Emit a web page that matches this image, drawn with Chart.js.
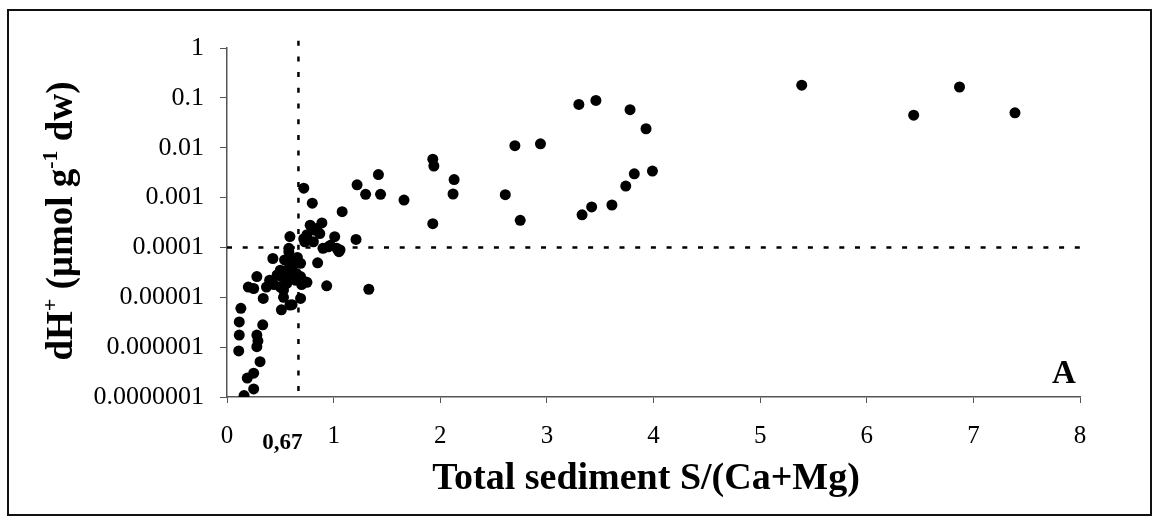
<!DOCTYPE html>
<html>
<head>
<meta charset="utf-8">
<script src="https://cdn.jsdelivr.net/npm/chart.js@4"></script>
<style>
  html, body { margin: 0; padding: 0; background: #fff; }
  #wrap { position: relative; width: 1158px; height: 522px; }
  #frame { position: absolute; left: 7px; top: 9px; width: 1141px; height: 503px; border: 2px solid #111; pointer-events: none; }
  canvas { position: absolute; left: 0; top: 0; }
</style>
</head>
<body>
<div id="wrap">
  <canvas id="chart" width="1158" height="522"></canvas>
  <div id="frame"></div>
</div>
<script>
// S/(Ca+Mg) of the sediment
const sRatio = [
  5.39, 6.44, 6.87, 7.39,
  3.30, 3.46, 3.78, 3.93, 3.82, 3.99, 3.74, 3.61, 3.42, 3.33,
  2.70, 2.94, 2.61, 2.75, 1.93, 1.94, 2.13, 2.12, 1.93,
  1.42, 1.30, 1.44, 1.66, 1.22, 1.33, 1.21, 1.08, 0.80, 0.72, 0.935, 0.85,
  0.78, 0.89, 0.84, 0.72, 0.81, 1.01, 0.95, 1.06, 0.90, 0.87, 0.83,
  0.59, 0.58, 0.43, 0.54, 0.62, 0.50, 0.62, 0.69, 0.73, 0.56, 0.40, 0.37,
  0.34, 0.53, 0.59, 0.69, 0.50, 0.28, 0.20, 0.25, 0.51, 0.56, 0.61, 0.69,
  0.64, 0.70, 0.65, 0.51, 0.61, 0.53, 0.75, 0.56, 0.75, 0.73, 0.58, 0.58,
  1.03, 0.97, 1.05, 0.66, 0.47, 0.44,
  0.13, 0.115, 0.115, 0.11, 0.335, 0.28, 0.29, 0.28, 0.31, 0.25, 0.19, 0.25, 0.16
];
// dH+ (umol g-1 dw)
const dH = [
  0.18, 0.045, 0.165, 0.05,
  0.074, 0.089, 0.058, 0.024, 0.003, 0.0034, 0.0017, 0.00071, 0.00065, 0.00045,
  0.011, 0.012, 0.00114, 0.00035, 0.0059, 0.0043, 0.0023, 0.00118, 0.0003,
  0.0029, 0.00116, 0.00116, 0.00089, 0.0018, 0.0000145, 0.000145, 0.00052, 0.00077, 0.00154, 0.000017, 0.000049,
  0.00028, 0.00031, 0.00024, 0.00015, 0.00013, 0.000164, 0.000103, 0.000089, 0.000096, 0.00019, 0.00022,
  0.000165, 0.000096, 0.00006, 0.000056, 0.000048, 0.000035, 0.00003, 0.000026, 0.0000205, 0.000022, 0.000022, 0.000016,
  0.0000095, 0.00001, 0.000007, 0.0000095, 0.000016, 0.000026, 0.000016, 0.000015, 0.000026, 0.000035, 0.000041, 0.000048,
  0.000022, 0.000018, 0.00003, 0.0000056, 0.0000071, 0.000014, 0.00002, 0.000019, 0.00018, 0.00013, 0.000082, 0.00006,
  0.000096, 0.00011, 0.000082, 0.000063, 0.000028, 0.000018,
  0.000006, 0.0000032, 0.00000175, 0.00000084, 0.0000028, 0.00000175, 0.00000134, 0.00000102, 0.00000051, 0.0000003, 0.00000024, 0.000000145, 0.000000107
];

const sThreshold = 0.67;
const dHThreshold = 0.0001;

const xTicks = [0, 1, 2, 3, 4, 5, 6, 7, 8];
const yTicks = [0.0000001, 0.000001, 0.00001, 0.0001, 0.001, 0.01, 0.1, 1];
const yTickLabels = ['0.0000001', '0.000001', '0.00001', '0.0001', '0.001', '0.01', '0.1', '1'];

const points = sRatio.map((s, i) => ({ x: s, y: dH[i] }));

const serif = "'Liberation Serif', 'Times New Roman', serif";
const axisGray = '#555';

// extra labels: axis titles with superscripts, 0,67 marker, panel letter
const labelsPlugin = {
  id: 'labels',
  afterDraw(chart) {
    const ctx = chart.ctx;
    const xs = chart.scales.x;
    ctx.save();
    ctx.fillStyle = '#000';

    // x title
    ctx.font = 'bold 38px ' + serif;
    ctx.textAlign = 'center';
    ctx.textBaseline = 'middle';
    ctx.fillText('Total sediment S/(Ca+Mg)', 646, 479);

    // 0,67 marker
    ctx.font = 'bold 23px ' + serif;
    ctx.fillText('0,67', xs.getPixelForValue(sThreshold) - 16, 443);

    // panel letter
    ctx.font = 'bold 33px ' + serif;
    ctx.fillText('A', 1064, 374);

    // y title, rotated, with superscripts
    const parts = [
      { t: 'dH', sup: false },
      { t: '+', sup: true },
      { t: ' (\u03bcmol g', sup: false },
      { t: '-1', sup: true },
      { t: ' dw)', sup: false }
    ];
    const big = 'bold 37px ' + serif;
    const small = 'bold 22px ' + serif;
    let total = 0;
    parts.forEach(p => { ctx.font = p.sup ? small : big; p.w = ctx.measureText(p.t).width; total += p.w; });
    ctx.translate(72, 221);
    ctx.rotate(-Math.PI / 2);
    ctx.textAlign = 'left';
    ctx.textBaseline = 'alphabetic';
    let pos = -total / 2;
    parts.forEach(p => {
      ctx.font = p.sup ? small : big;
      ctx.fillText(p.t, pos, p.sup ? -15 : 0);
      pos += p.w;
    });
    ctx.restore();
  }
};

new Chart(document.getElementById('chart').getContext('2d'), {
  type: 'scatter',
  data: {
    datasets: [
      {
        label: 'samples',
        data: points,
        backgroundColor: '#000',
        borderColor: '#000',
        pointRadius: 5.5,
        pointBorderWidth: 0,
        order: 1
      },
      {
        label: 'S threshold',
        data: [{ x: sThreshold, y: 1.4 }, { x: sThreshold, y: 0.0000001 }],
        showLine: true,
        borderColor: '#000',
        borderWidth: 2.5,
        borderDash: [5, 10.7],
        pointRadius: 0,
        clip: false,
        order: 2
      },
      {
        label: 'dH threshold',
        data: [{ x: 0, y: dHThreshold }, { x: 8, y: dHThreshold }],
        showLine: true,
        borderColor: '#000',
        borderWidth: 2.5,
        borderDash: [5, 10.7],
        pointRadius: 0,
        order: 2
      }
    ]
  },
  options: {
    responsive: false,
    animation: false,
    layout: { padding: { left: 0, right: 78, top: 48, bottom: 0 } },
    plugins: {
      legend: { display: false },
      tooltip: { enabled: false }
    },
    scales: {
      x: {
        type: 'linear',
        min: 0,
        max: 8,
        afterBuildTicks: scale => { scale.ticks = xTicks.map(v => ({ value: v })); },
        afterFit: scale => { scale.height = 125; },
        grid: { display: true, drawOnChartArea: false, drawTicks: true, tickLength: 6, color: axisGray, lineWidth: 1 },
        border: { display: true, color: axisGray, width: 1.5 },
        ticks: {
          color: '#000',
          padding: 18,
          maxRotation: 0,
          font: { family: serif, size: 25 },
          callback: v => String(v)
        }
      },
      y: {
        type: 'logarithmic',
        min: 0.0000001,
        max: 1,
        afterBuildTicks: scale => { scale.ticks = yTicks.map(v => ({ value: v })); },
        afterFit: scale => { scale.width = 227; },
        grid: { display: true, drawOnChartArea: false, drawTicks: true, tickLength: 7, color: axisGray, lineWidth: 1 },
        border: { display: true, color: axisGray, width: 1.5 },
        ticks: {
          color: '#000',
          padding: 16,
          font: { family: serif, size: 26 },
          callback: function (v) {
            const i = yTicks.findIndex(t => Math.abs(Math.log10(t) - Math.log10(v)) < 1e-6);
            return i >= 0 ? yTickLabels[i] : '';
          }
        }
      }
    }
  },
  plugins: [labelsPlugin]
});
</script>
</body>
</html>
